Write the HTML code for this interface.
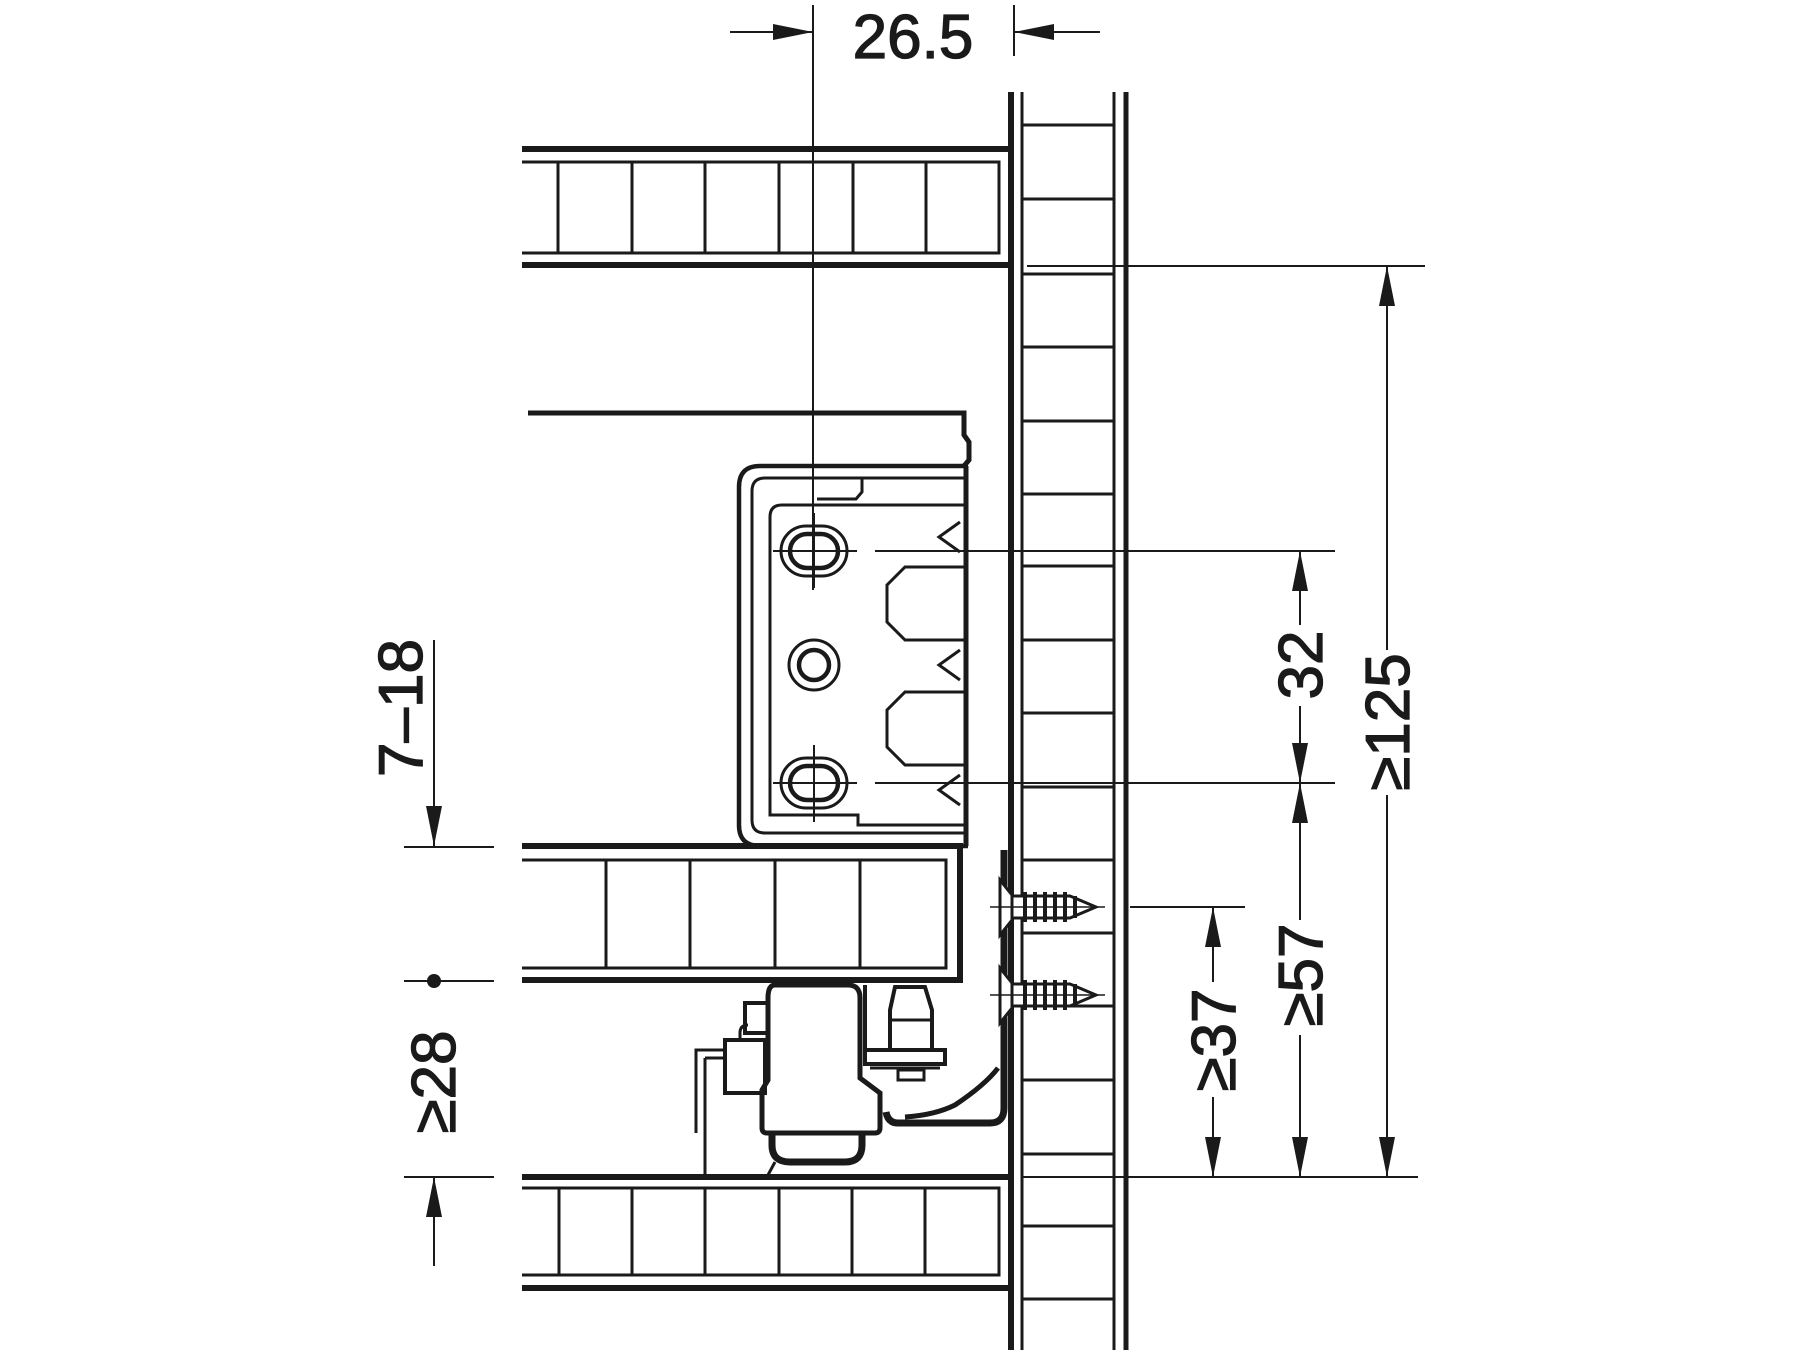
<!DOCTYPE html>
<html><head><meta charset="utf-8"><style>html,body{margin:0;padding:0;background:#fff}svg{display:block}</style></head>
<body>
<svg width="1800" height="1350" viewBox="0 0 1800 1350" xmlns="http://www.w3.org/2000/svg" font-family="Liberation Sans, sans-serif">
<rect width="1800" height="1350" fill="#fff"/>
<g stroke="#1a1a1a" fill="none" stroke-linecap="butt">
<!-- Cabinet wall -->
<line x1="1011" y1="92" x2="1011" y2="1350" stroke-width="6"/>
<line x1="1022" y1="92" x2="1022" y2="1350" stroke-width="3"/>
<line x1="1114" y1="92" x2="1114" y2="1350" stroke-width="3"/>
<line x1="1126" y1="92" x2="1126" y2="1350" stroke-width="5"/>
<g stroke-width="3">
<line x1="1022" y1="125" x2="1114" y2="125"/><line x1="1022" y1="199" x2="1114" y2="199"/>
<line x1="1022" y1="274" x2="1114" y2="274"/><line x1="1022" y1="347" x2="1114" y2="347"/>
<line x1="1022" y1="421" x2="1114" y2="421"/><line x1="1022" y1="494" x2="1114" y2="494"/>
<line x1="1022" y1="566" x2="1114" y2="566"/><line x1="1022" y1="640" x2="1114" y2="640"/>
<line x1="1022" y1="713" x2="1114" y2="713"/><line x1="1022" y1="787" x2="1114" y2="787"/>
<line x1="1022" y1="860" x2="1114" y2="860"/><line x1="1022" y1="933" x2="1114" y2="933"/>
<line x1="1022" y1="1006" x2="1114" y2="1006"/><line x1="1022" y1="1080" x2="1114" y2="1080"/>
<line x1="1022" y1="1154" x2="1114" y2="1154"/><line x1="1022" y1="1226" x2="1114" y2="1226"/>
<line x1="1022" y1="1299" x2="1114" y2="1299"/>
</g>
<!-- Top drawer panel -->
<line x1="522" y1="149" x2="1011" y2="149" stroke-width="6"/>
<line x1="522" y1="265" x2="1011" y2="265" stroke-width="6"/>
<path d="M522 162 H999 V253 H522" stroke-width="3"/>
<g stroke-width="3"><line x1="558" y1="162" x2="558" y2="253"/><line x1="632" y1="162" x2="632" y2="253"/><line x1="705" y1="162" x2="705" y2="253"/><line x1="779" y1="162" x2="779" y2="253"/><line x1="853" y1="162" x2="853" y2="253"/><line x1="926" y1="162" x2="926" y2="253"/></g>
<!-- Top line of drawer side -->
<path d="M528 413 H964 V435 L969 442 V460 L964 466" stroke-width="5"/>
<!-- Bracket -->
<path d="M968 466 H760 Q739 466 739 487 V825 Q739 846 760 846 H968" stroke-width="4.5"/>
<path d="M966 478 H765 Q752 478 752 491 V820 Q752 833 765 833 H966" stroke-width="3"/>
<path d="M862 478 V492 L856 499 H817" stroke-width="3"/>
<path d="M966 505 H782 Q770 505 770 517 V815 H858 V825 H966" stroke-width="3"/>
<line x1="966" y1="466" x2="966" y2="846" stroke-width="5"/>
<!-- holes -->
<rect x="781" y="526" width="66" height="50" rx="25" stroke-width="3"/>
<rect x="790" y="534" width="48" height="34" rx="17" stroke-width="4.5"/>
<rect x="781" y="758" width="66" height="50" rx="25" stroke-width="3"/>
<rect x="790" y="766" width="48" height="34" rx="17" stroke-width="4.5"/>
<circle cx="814" cy="665" r="25" stroke-width="3"/>
<circle cx="814" cy="665" r="15" stroke-width="4.5"/>
<g stroke-width="2"><line x1="773" y1="551" x2="857" y2="551"/><line x1="814" y1="513" x2="814" y2="588"/><line x1="773" y1="783" x2="857" y2="783"/><line x1="814" y1="745" x2="814" y2="822"/></g>
<!-- recesses -->
<path d="M966 567 H905 L887 585 V622 L905 640 H966" stroke-width="3"/>
<path d="M966 692 H905 L887 710 V747 L905 765 H966" stroke-width="3"/>
<path d="M960 522 L939 537 L960 552" stroke-width="3"/>
<path d="M960 650 L939 665 L960 680" stroke-width="3"/>
<path d="M960 775 L939 790 L960 805" stroke-width="3"/>
<!-- Middle drawer panel -->
<path d="M522 846 H960 V980 H522" stroke-width="6"/>
<path d="M522 860 H946 V968 H522" stroke-width="3"/>
<g stroke-width="3"><line x1="606" y1="860" x2="606" y2="968"/><line x1="690" y1="860" x2="690" y2="968"/><line x1="775" y1="860" x2="775" y2="968"/><line x1="860" y1="860" x2="860" y2="968"/></g>
<!-- Bottom drawer panel -->
<line x1="522" y1="1177" x2="1011" y2="1177" stroke-width="6"/>
<line x1="522" y1="1288" x2="1011" y2="1288" stroke-width="6"/>
<path d="M522 1188 H999 V1275 H522" stroke-width="3"/>
<g stroke-width="3"><line x1="559" y1="1188" x2="559" y2="1275"/><line x1="632" y1="1188" x2="632" y2="1275"/><line x1="705" y1="1188" x2="705" y2="1275"/><line x1="779" y1="1188" x2="779" y2="1275"/><line x1="852" y1="1188" x2="852" y2="1275"/><line x1="925" y1="1188" x2="925" y2="1275"/></g>
<!-- Angle bracket -->
<path d="M1004 850 V1108 Q1004 1123 990 1123 H898 Q888 1123 886 1112" stroke-width="7"/>
<path d="M998 1068 Q985 1085 955 1105 Q935 1115 905 1117" stroke-width="5"/>
<!-- screws -->
<g stroke-width="3">
<path d="M1000 880 L1012 895 V920 L1000 935 Z" fill="#fff"/>
<path d="M1012 896 H1070 L1096 907 L1070 918 H1012 Z" fill="#fff"/>
<path d="M1000 968 L1012 983 V1008 L1000 1023 Z" fill="#fff"/>
<path d="M1012 984 H1070 L1096 995 L1070 1006 H1012 Z" fill="#fff"/>
</g>
<g stroke-width="4"><path d="M1025 892 V922 M1035 892 V922 M1045 892 V922 M1055 892 V922 M1065 892 V922 M1075 896 V918"/>
<path d="M1025 980 V1010 M1035 980 V1010 M1045 980 V1010 M1055 980 V1010 M1065 980 V1010 M1075 984 V1006"/></g>
<g stroke-width="1.5"><line x1="990" y1="907" x2="1105" y2="907"/><line x1="990" y1="995" x2="1105" y2="995"/></g>
<!-- Locking device -->
<path d="M775 985 H848 Q860 985 860 998 V1078 L880 1093 V1128 Q880 1133 875 1133 H767 Q762 1133 762 1128 V1090 L768 1080 V998 Q768 985 775 985 Z" fill="#fff" stroke-width="5"/>
<path d="M772 1133 V1145 Q772 1162 790 1162 H845 Q862 1162 862 1145 V1133" stroke-width="7"/>
<line x1="775" y1="1162" x2="768" y2="1175" stroke-width="3"/>
<rect x="725" y="1040" width="40" height="53" stroke-width="4"/>
<rect x="745" y="1003" width="23" height="30" stroke-width="4"/>
<path d="M740 1040 V1033 Q740 1025 748 1025" stroke-width="3"/>
<path d="M725 1050 H696 V1133 M705 1058 H725 M705 1058 V1177" stroke-width="3"/>
<line x1="865" y1="985" x2="865" y2="1060" stroke-width="4"/>
<path d="M895 987 H925 L932 1010 V1050 H890 V1010 Z" fill="#fff" stroke-width="4"/>
<line x1="892" y1="1020" x2="930" y2="1020" stroke-width="3"/>
<rect x="865" y="1050" width="80" height="14" fill="#fff" stroke-width="4"/>
<line x1="870" y1="1068" x2="940" y2="1068" stroke-width="3"/>
<rect x="898" y="1070" width="26" height="10" stroke-width="3"/>
</g>

<!-- Dimensions -->
<g stroke="#1a1a1a" stroke-width="2" fill="none">
<line x1="813" y1="5" x2="813" y2="590"/>
<line x1="1014" y1="5" x2="1014" y2="56"/>
<line x1="730" y1="32" x2="813" y2="32"/>
<line x1="1014" y1="32" x2="1100" y2="32"/>
<line x1="1027" y1="266" x2="1425" y2="266"/>
<line x1="875" y1="551" x2="1335" y2="551"/>
<line x1="875" y1="783" x2="1335" y2="783"/>
<line x1="1130" y1="907" x2="1245" y2="907"/>
<line x1="1022" y1="1177" x2="1418" y2="1177"/>
<line x1="1300" y1="551" x2="1300" y2="625"/><line x1="1300" y1="706" x2="1300" y2="783"/>
<line x1="1300" y1="783" x2="1300" y2="920"/><line x1="1300" y1="1035" x2="1300" y2="1177"/>
<line x1="1387" y1="266" x2="1387" y2="650"/><line x1="1387" y1="795" x2="1387" y2="1177"/>
<line x1="1213" y1="907" x2="1213" y2="982"/><line x1="1213" y1="1097" x2="1213" y2="1177"/>
<line x1="434" y1="640" x2="434" y2="846"/>
<line x1="404" y1="847" x2="494" y2="847"/>
<line x1="404" y1="981" x2="494" y2="981"/>
<line x1="404" y1="1177" x2="494" y2="1177"/>
<line x1="434" y1="1177" x2="434" y2="1266"/>
</g>
<g fill="#1a1a1a">
<path d="M813 32 L773 24 L773 40 Z"/>
<path d="M1014 32 L1054 24 L1054 40 Z"/>
<path d="M1300 551 L1292 591 L1308 591 Z"/>
<path d="M1300 783 L1292 743 L1308 743 Z"/>
<path d="M1300 783 L1292 823 L1308 823 Z"/>
<path d="M1300 1177 L1292 1137 L1308 1137 Z"/>
<path d="M1387 266 L1379 306 L1395 306 Z"/>
<path d="M1387 1177 L1379 1137 L1395 1137 Z"/>
<path d="M1213 907 L1205 947 L1221 947 Z"/>
<path d="M1213 1177 L1205 1137 L1221 1137 Z"/>
<path d="M434 846 L426 806 L442 806 Z"/>
<path d="M434 1177 L426 1217 L442 1217 Z"/>
<ellipse cx="434" cy="981" rx="7" ry="7"/>
</g>
<g fill="#1a1a1a" stroke="#1a1a1a" stroke-width="1.3" font-size="62" text-anchor="middle">
<text x="913" y="58">26.5</text>
<text transform="translate(1300 665) rotate(-90)" dy="22">32</text>
<text transform="translate(1387 722) rotate(-90)" dy="22">≥125</text>
<text transform="translate(1300 975) rotate(-90)" dy="22">≥57</text>
<text transform="translate(1213 1040) rotate(-90)" dy="22">≥37</text>
<text transform="translate(400 708) rotate(-90)" dy="22">7–18</text>
<text transform="translate(433 1082) rotate(-90)" dy="22">≥28</text>
</g>
</svg>
</body></html>
